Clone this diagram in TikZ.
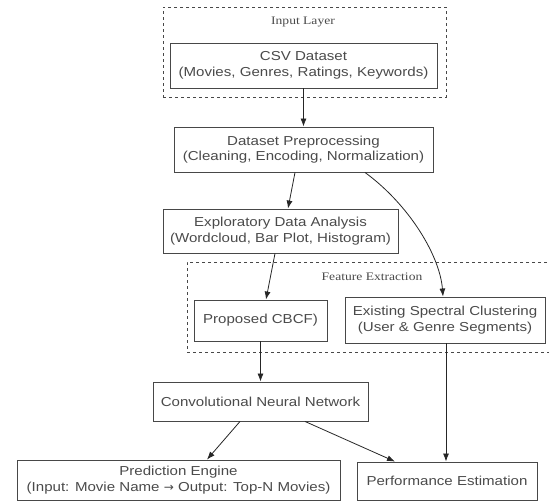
\documentclass[tikz,border=0pt]{standalone}
\usepackage{fontspec}
\setmainfont{Liberation Sans}[FakeStretch=1.16]
\newfontfamily\labserif{Liberation Serif}[FakeStretch=1.18]
\newfontfamily\arrowfont{DejaVu Sans}
\usetikzlibrary{arrows.meta,calc}
\definecolor{txt}{HTML}{4A4A4A}
\definecolor{brd}{HTML}{484848}
\begin{document}
\begin{tikzpicture}[x=1pt,y=-1pt,
  box/.style={draw=brd,line width=0.9pt,text=txt,inner sep=0pt,align=center,font=\fontsize{13}{15.5}\selectfont},
  grp/.style={draw=brd,dashed,line width=0.8pt,inner sep=0pt},
  grplab/.style={text=txt,font=\labserif\fontsize{11.5}{13}\selectfont},
  arr/.style={draw=black!85,line width=0.8pt,-{Latex[length=8pt,width=6pt]}}]
\useasboundingbox (0,0) rectangle (549,501);
% groups
\node[grp,minimum width=283pt,minimum height=90pt] (ingrp) at (304.5,52) {};
\node[grplab] (inlab) at (303,22) {Input Layer};
\node[grp,minimum width=363pt,minimum height=90pt] (fegrp) at (368.5,307) {};
\node[grplab] (felab) at (372,277) {Feature Extraction};
% boxes
\node[box,minimum width=267pt,minimum height=45pt] (csv) at (303.5,65.5) {CSV Dataset\\(Movies, Genres, Ratings, Keywords)};
\node[box,minimum width=259pt,minimum height=45pt] (pre) at (303.5,149.5) {Dataset Preprocessing\\(Cleaning, Encoding, Normalization)};
\node[box,minimum width=235pt,minimum height=44pt] (eda) at (280.5,231) {Exploratory Data Analysis\\(Wordcloud, Bar Plot, Histogram)};
\node[box,minimum width=133pt,minimum height=41pt] (cbcf) at (260.5,320.5) {Proposed CBCF)};
\node[box,minimum width=200pt,minimum height=46pt] (spec) at (445,320) {Existing Spectral Clustering\\(User \& Genre Segments)};
\node[box,minimum width=215pt,minimum height=39pt] (cnn) at (260.5,401.5) {Convolutional Neural Network};
\node[box,minimum width=323pt,minimum height=40.5pt] (pred) at (178.5,480.25) {Prediction Engine\\(Input: Movie Name {\arrowfont\fontsize{12}{12}\selectfont →} Output: Top-N Movies)};
\node[box,minimum width=180pt,minimum height=38pt] (perf) at (447,481) {Performance Estimation};
% arrows
\draw[arr] (csv) -- (pre);
\draw[arr] ([xshift=-8.5pt]pre.south) -- ([xshift=7.5pt]eda.north);
\draw[arr] ([xshift=61.5pt]pre.south) .. controls +(45,33) and +(-3,-40) .. ([xshift=-2pt]spec.north);
\draw[arr] ([xshift=-5.5pt]eda.south) -- ([xshift=5.5pt]cbcf.north);
\draw[arr] (cbcf) -- (cnn);
\draw[arr] ([xshift=1pt]spec.south) -- ([xshift=1pt]spec.south |- perf.north);
\draw[arr] ([xshift=-20.5pt]cnn.south) -- ([xshift=28.5pt]pred.north);
\draw[arr] ([xshift=44.5pt]cnn.south) -- ([xshift=-52pt]perf.north);
\end{tikzpicture}
\end{document}
